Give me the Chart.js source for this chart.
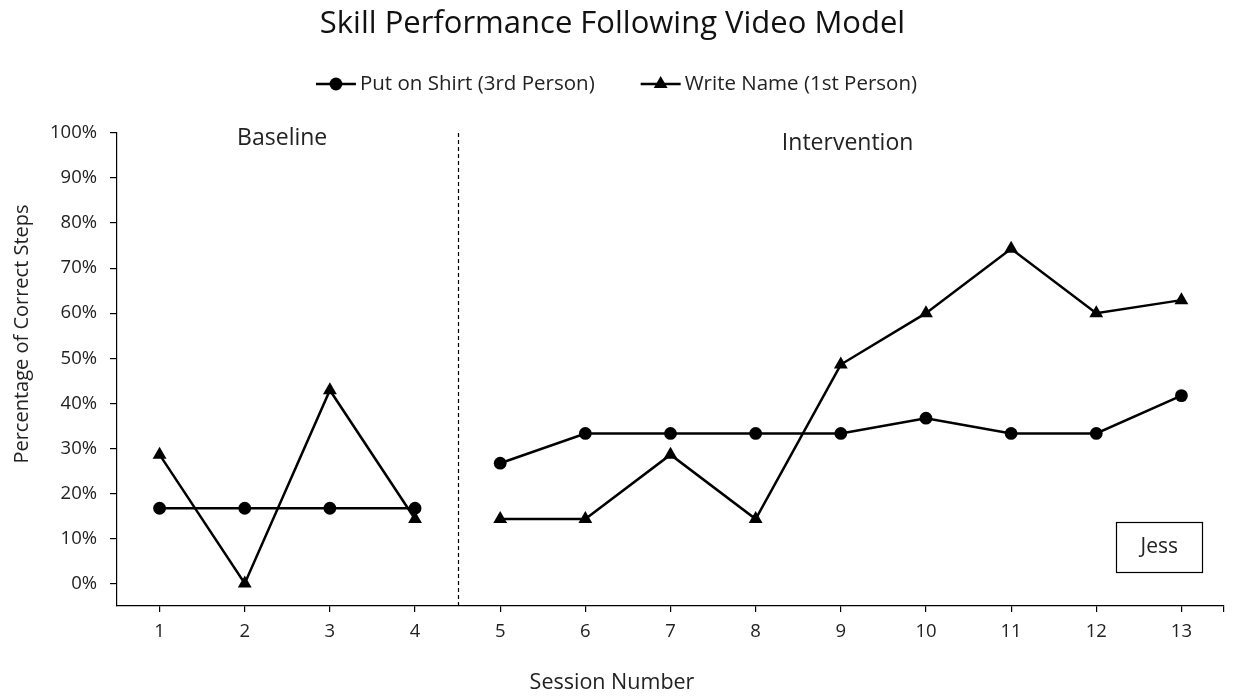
<!DOCTYPE html>
<html>
<head>
<meta charset="utf-8">
<script src="https://cdn.jsdelivr.net/npm/chart.js@4.4.1/dist/chart.umd.min.js"></script>
<style>
html,body{margin:0;padding:0;background:#fff;}
#wrap{width:1233px;height:696px;}
</style>
</head>
<body>
<div id="wrap"><canvas id="c" width="1233" height="696"></canvas></div>
<script>
// ---- data ----
const sessions = [1,2,3,4,5,6,7,8,9,10,11,12,13];
const phaseBreakAfter = 4; // baseline = sessions 1-4, intervention = 5-13
const shirtValues = [16.7,16.7,16.7,16.7,26.7,33.3,33.3,33.3,33.3,36.7,33.3,33.3,41.7];
const writeValues = [28.6,0,42.9,14.3,14.3,14.3,28.6,14.3,48.6,60,74.3,60,62.9];
const yTicks = [0,10,20,30,40,50,60,70,80,90,100];
const seriesNames = ['Put on Shirt (3rd Person)','Write Name (1st Person)'];
const phaseLabels = ['Baseline','Intervention'];
const caseLabel = 'Jess';
const xTitle = 'Session Number';
const yTitle = 'Percentage of Correct Steps';

const FONT = '"Open Sans", sans-serif';
const TXT = '#222';

function withGap(vals){
  const out=[];
  sessions.forEach((s,i)=>{
    out.push({x:s,y:vals[i]});
    if(s===phaseBreakAfter) out.push({x:s+0.5,y:null});
  });
  return out;
}

// custom legend: line + marker, then text
const legendPlugin={
  id:'lineLegend',
  afterDraw(chart){
    const ctx=chart.ctx;
    const cy=84, lineW=40, gapText=4, gapItem=46;
    ctx.save();
    ctx.font='20.5px '+FONT;
    const items=chart.data.datasets.map(d=>({d,w:ctx.measureText(d.label).width}));
    let total=items.reduce((a,it)=>a+lineW+gapText+it.w,0)+gapItem*(items.length-1);
    let x=chart.width/2-total/2;
    items.forEach(({d,w})=>{
      ctx.strokeStyle=d.borderColor; ctx.lineWidth=d.borderWidth;
      ctx.beginPath(); ctx.moveTo(x,cy); ctx.lineTo(x+lineW,cy); ctx.stroke();
      ctx.fillStyle=d.backgroundColor;
      ctx.beginPath();
      const r=d.pointRadius, mx=x+lineW/2;
      if(d.pointStyle==='circle'){ctx.arc(mx,cy,r,0,Math.PI*2);}
      else{ctx.moveTo(mx,cy-r);ctx.lineTo(mx+r*0.866,cy+r/2);ctx.lineTo(mx-r*0.866,cy+r/2);ctx.closePath();}
      ctx.fill();
      ctx.fillStyle=TXT; ctx.textAlign='left'; ctx.textBaseline='middle';
      ctx.fillText(d.label,x+lineW+gapText,cy);
      x+=lineW+gapText+w+gapItem;
    });
    ctx.restore();
  }
};

const phasePlugin={
  id:'phase',
  afterDatasetsDraw(chart){
    const {ctx,scales:{x,y},chartArea}=chart;
    const px=Math.round(x.getPixelForValue(phaseBreakAfter+0.5))+0.5;
    ctx.save();
    ctx.strokeStyle='#000'; ctx.lineWidth=1.2; ctx.setLineDash([4,3]);
    ctx.beginPath(); ctx.moveTo(px,chartArea.top); ctx.lineTo(px,chartArea.bottom); ctx.stroke();
    ctx.setLineDash([]);
    ctx.fillStyle=TXT; ctx.font='23px '+FONT; ctx.textAlign='center'; ctx.textBaseline='middle';
    ctx.fillText(phaseLabels[0], x.getPixelForValue(2.44), chartArea.top+5);
    ctx.fillText(phaseLabels[1], x.getPixelForValue(9.08), chartArea.top+10);
    // case label box
    const bx=x.getPixelForValue(12.74), by=y.getPixelForValue(8.2);
    const bw=86, bh=50;
    ctx.lineWidth=1.2; ctx.strokeStyle='#000';
    ctx.strokeRect(Math.round(bx-bw/2)+0.5, Math.round(by-bh/2)+0.5, bw, bh);
    ctx.font='21px '+FONT;
    ctx.fillText(caseLabel, bx, by);
    // axis titles (offset as in the original layout)
    ctx.font='21.5px '+FONT;
    ctx.fillText(xTitle, 612, 683);
    ctx.translate(22,334); ctx.rotate(-Math.PI/2);
    ctx.font='20px '+FONT;
    ctx.fillText(yTitle, 0, 0);
    ctx.restore();
  }
};

new Chart(document.getElementById('c'),{
  type:'line',
  data:{datasets:[
    {label:seriesNames[0],data:withGap(shirtValues),borderColor:'#000',backgroundColor:'#000',borderWidth:2.5,
     pointStyle:'circle',pointRadius:6.4,pointHoverRadius:6.4,pointBorderWidth:0,spanGaps:false,tension:0},
    {label:seriesNames[1],data:withGap(writeValues),borderColor:'#000',backgroundColor:'#000',borderWidth:2.5,
     pointStyle:'triangle',pointRadius:8,pointHoverRadius:8,pointBorderWidth:0,spanGaps:false,tension:0}
  ]},
  options:{
    responsive:false,animation:false,
    layout:{padding:{left:0,right:8,top:0,bottom:0}},
    plugins:{
      title:{display:true,text:'Skill Performance Following Video Model',color:'#111',
        font:{family:FONT,size:31,weight:'normal',lineHeight:1.2},padding:{top:6,bottom:89.8}},
      legend:{display:false},
      tooltip:{enabled:false}
    },
    scales:{
      x:{type:'linear',min:0.5,max:13.5,
        afterBuildTicks(ax){ ax.ticks=[...sessions.map(v=>({value:v})),{value:13.5}]; },
        afterFit(ax){ ax.height=90; },
        ticks:{color:TXT,font:{family:FONT,size:18.5},padding:9,autoSkip:false,maxRotation:0,
          callback:(v)=>Number.isInteger(v)?String(v):''},
        grid:{display:true,drawOnChartArea:false,drawTicks:true,tickLength:6,color:'#000',lineWidth:1.2},
        border:{display:true,color:'#000',width:1.2},
        title:{display:false}
      },
      y:{type:'linear',min:-5,max:100,
        afterBuildTicks(ax){ ax.ticks=yTicks.map(v=>({value:v})); },
        afterFit(ax){ ax.width=117; },
        ticks:{color:TXT,font:{family:FONT,size:18.5},padding:13,callback:(v)=>v+'%'},
        grid:{display:true,drawOnChartArea:false,drawTicks:true,tickLength:7,color:'#000',lineWidth:1.2},
        border:{display:true,color:'#000',width:1.2},
        title:{display:false}
      }
    }
  },
  plugins:[phasePlugin,legendPlugin]
});
</script>
</body>
</html>
